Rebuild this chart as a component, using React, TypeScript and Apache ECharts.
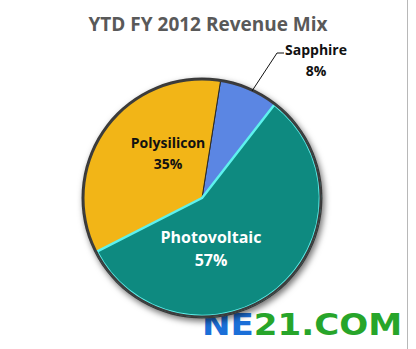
import React, { useEffect, useRef } from "react";
import * as echarts from "echarts";

const categories = ["Sapphire", "Photovoltaic", "Polysilicon"];
const values = [8, 57, 35];
const colors = ["#5b86e3", "#0e8a80", "#f2b517"];
const labelColors = ["#111111", "#ffffff", "#111111"];
const labelSizes = [14, 16, 14];
const titleText = "YTD FY 2012 Revenue Mix";

export default function App() {
  const ref = useRef<HTMLDivElement>(null);
  useEffect(() => {
    document.body.style.margin = "0";
    const chart = echarts.init(ref.current!, null, { renderer: "svg" });
    const C = [202, 198];
    const R = 119;
    const font = "'Open Sans', 'Noto Sans', sans-serif";
    const labelPos: Record<number, number[]> = { 0: [316, 60], 1: [211, 248], 2: [168, 153] };
    const mainData = categories.map((name, i) => ({
      name,
      value: values[i],
      itemStyle: { color: colors[i] },
    }));
    const labelData = categories.map((name, i) => ({
      name,
      value: values[i],
      itemStyle: { color: "rgba(0,0,0,0)", borderWidth: 0 },
      label: {
        show: true,
        position: i === 0 ? "outside" : "inside",
        color: labelColors[i],
        fontSize: labelSizes[i],
        lineHeight: labelSizes[i] + 7,
        fontWeight: "bold",
        fontFamily: font,
        formatter: "{b}\n{d}%",
      },
      labelLine: { show: i === 0, lineStyle: { color: "#111", width: 1 } },
    }));
    const overlayData = categories.map((name, i) => ({
      name,
      value: values[i],
      itemStyle:
        i === 1
          ? { color: colors[i], borderColor: "#5ef2ee", borderWidth: 2.5 }
          : { color: "rgba(0,0,0,0)", borderWidth: 0 },
    }));
    chart.setOption({
      animation: false,
      backgroundColor: "#ffffff",
      title: {
        text: titleText,
        left: "center",
        top: 9,
        textStyle: { color: "#595959", fontSize: 19, fontWeight: "bold", fontFamily: font },
      },
      graphic: [
        { type: "line", shape: { x1: 407.5, y1: 0, x2: 407.5, y2: 349 }, style: { stroke: "#b8b8b8", lineWidth: 1 } },
        {
          type: "text",
          left: 202,
          top: 309,
          scaleX: 1.1,
          style: {
            text: "{a|NE}{b|21.COM}",
            rich: {
              a: { fill: "#1b6fd8", fontSize: 31, fontWeight: "bold", fontFamily: "'DejaVu Sans', sans-serif" },
              b: { fill: "#27a52a", fontSize: 31, fontWeight: "bold", fontFamily: "'DejaVu Sans', sans-serif" },
            },
          },
        },
      ],
      series: [
        {
          type: "pie",
          silent: true,
          center: C,
          radius: R + 1.5,
          label: { show: false },
          itemStyle: {
            color: "#3a3a3a",
            shadowBlur: 6,
            shadowColor: "rgba(0,0,0,0.55)",
            shadowOffsetX: 2,
            shadowOffsetY: 3,
          },
          data: [{ value: 1, name: "" }],
          z: 1,
        },
        {
          type: "pie",
          center: C,
          radius: R,
          startAngle: 81,
          clockwise: true,
          itemStyle: { borderColor: "#2a2a2a", borderWidth: 1 },
          label: { show: false },
          labelLine: { show: false },
          data: mainData,
          z: 2,
        },
        {
          type: "pie",
          silent: true,
          center: C,
          radius: R - 1,
          startAngle: 81,
          clockwise: true,
          label: { show: false },
          labelLine: { show: false },
          data: overlayData,
          z: 3,
        },
        {
          type: "pie",
          silent: true,
          center: C,
          radius: [R - 1.5, R + 0.5],
          label: { show: false },
          itemStyle: { color: "#3c3c3c" },
          data: [{ value: 1, name: "" }],
          z: 4,
        },
        {
          type: "pie",
          center: C,
          radius: R,
          startAngle: 81,
          clockwise: true,
          labelLayout: (p: any) => {
            const pos = labelPos[p.dataIndex];
            const out: any = { x: pos[0], y: pos[1], align: "center", verticalAlign: "middle" };
            if (p.dataIndex === 0) out.labelLinePoints = [[252, 91], [277, 53], [284, 53]];
            return out;
          },
          data: labelData,
          z: 5,
        },
      ],
    });
    return () => chart.dispose();
  }, []);
  return <div ref={ref} style={{ width: 416, height: 349 }} />;
}
